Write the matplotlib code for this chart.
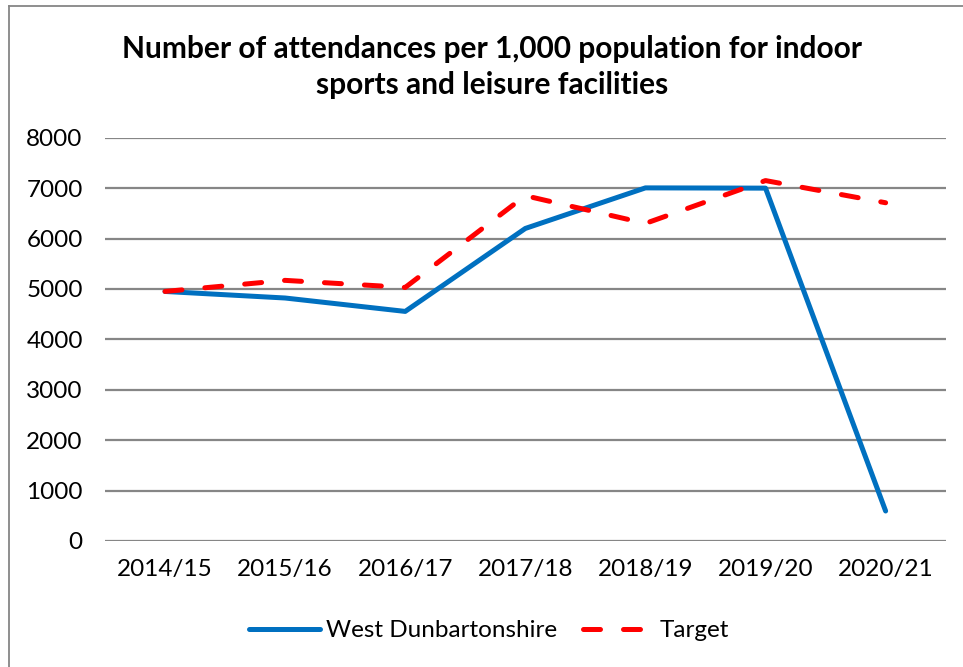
import matplotlib
matplotlib.use("Agg")
import matplotlib.pyplot as plt
from matplotlib.lines import Line2D

years = ["2014/15", "2015/16", "2016/17", "2017/18", "2018/19", "2019/20", "2020/21"]
west_dunbartonshire = [4950, 4820, 4554, 6200, 7005, 7000, 594]
target = [4950, 5170, 5030, 6850, 6300, 7150, 6710]
yticks = [0, 1000, 2000, 3000, 4000, 5000, 6000, 7000, 8000]

plt.rcParams['font.family'] = ['Lato', 'DejaVu Sans']

fig = plt.figure(figsize=(9.63, 6.67), dpi=100)
ax = fig.add_axes([0.109, 0.189, 0.873, 0.6045])

x = list(range(len(years)))
ax.plot(x, west_dunbartonshire, color='#0070C0', lw=3.6, solid_capstyle='round',
        solid_joinstyle='round', label='West Dunbartonshire', zorder=3)
ax.plot(x, target, color='#FF0000', lw=3.6, dashes=(3.4, 4.6), dash_capstyle='round',
        dash_joinstyle='round', label='Target', zorder=3)

ax.set_xlim(-0.5, len(years) - 0.5)
ax.set_ylim(0, 8000)
ax.set_yticks(yticks)
ax.set_yticklabels([str(v) for v in yticks])
ax.set_xticks(x)
ax.set_xticklabels(years)
ax.tick_params(axis='both', length=0, labelsize=17.5, colors='black')
ax.tick_params(axis='x', pad=13)
ax.tick_params(axis='y', pad=16)
ax.grid(axis='y', color='#868686', lw=1.6, zorder=0)
for s in ax.spines.values():
    s.set_visible(False)
ax.set_axisbelow(True)

fig.text(0.511, 0.9, "Number of attendances per 1,000 population for indoor\nsports and leisure facilities",
         ha='center', va='center', fontsize=21.5, fontweight='bold', linespacing=1.36)

leg = fig.legend(loc='center', bbox_to_anchor=(0.508, 0.054), ncol=2, frameon=False,
                 fontsize=17.5, handlelength=2.9, columnspacing=1.1, handletextpad=0.25)

# chart frame (left and top edges visible)
fig.add_artist(Line2D([9 / 963, 9 / 963], [0, 1 - 6 / 667], transform=fig.transFigure,
                      color='#868686', lw=1.3))
fig.add_artist(Line2D([9 / 963, 1], [1 - 6 / 667, 1 - 6 / 667], transform=fig.transFigure,
                      color='#868686', lw=1.3))

fig.savefig("out.png", dpi=100)
